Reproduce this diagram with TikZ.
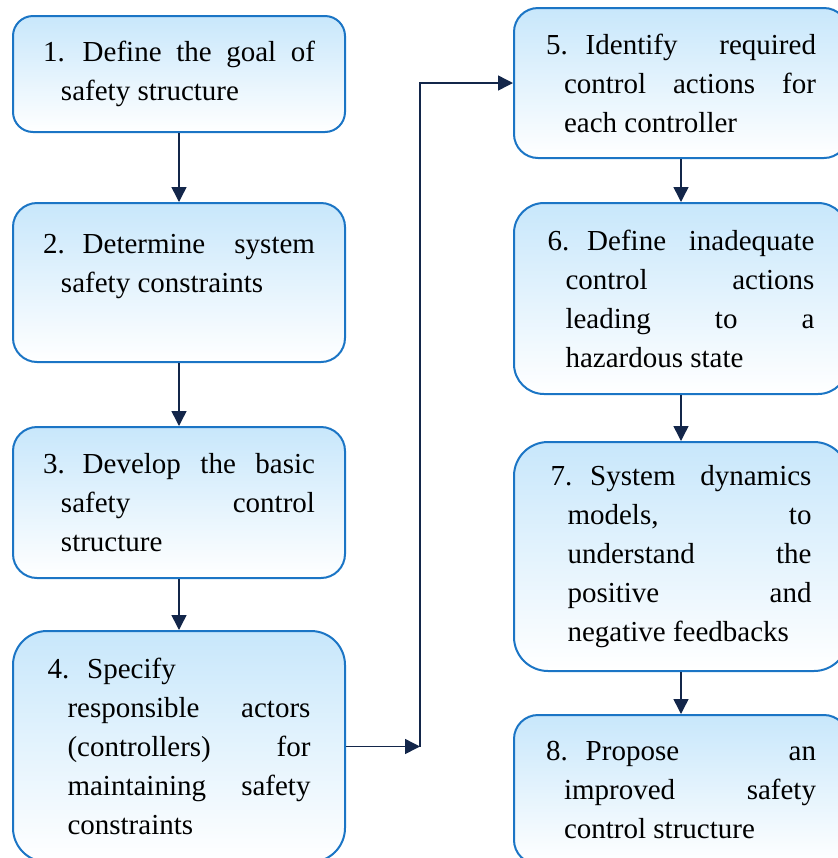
\documentclass[tikz,border=0pt]{standalone}
\usepackage{fontspec}
\setmainfont{Liberation Serif}
\usetikzlibrary{arrows.meta}

\definecolor{bordeazul}{HTML}{1B75C5}
\definecolor{rellenoazul}{HTML}{C8E7FB}
\definecolor{flecha}{HTML}{13264A}

% número del paso con sangría francesa a partir de la segunda línea
\newcommand{\numpaso}[2]{\hangindent=#1\hangafter=1\relax #2.\hspace{9pt}\ignorespaces}
\hyphenpenalty=10000
\tolerance=10000

\tikzset{
  paso/.style={draw=bordeazul, line width=1pt, rounded corners=12pt,
    top color=rellenoazul, bottom color=white, inner sep=0pt,
    align=justify, font=\fontsize{14.5pt}{19.5pt}\selectfont},
  flechapaso/.style={draw=flecha, line width=0.75pt,
    -{Triangle[length=7.5pt,width=7.5pt]}}
}

\begin{document}
\begin{tikzpicture}[x=0.5pt,y=-0.5pt]
  % Marco (coordenadas en px de la imagen)
  \useasboundingbox (0,0) rectangle (838,858);

  % Anchuras de las cajas
  \def\wizq{166pt}   % columna izquierda
  \def\wder{167pt}   % columna derecha

  % Columna izquierda: pasos 1 a 4
  \node[paso, rounded corners=10pt, minimum width=\wizq, minimum height=58pt, text width=136pt] (p1) at (179,74)
    {\numpaso{9pt}{1}Define the goal of\linebreak safety structure\par};
  \node[paso, minimum width=\wizq, minimum height=79.5pt, text width=136pt] (p2) at (179,282.5)
    {\numpaso{9pt}{2}Determine system\linebreak safety constraints\newline\mbox{}\par};
  \node[paso, minimum width=\wizq, minimum height=75.5pt, text width=136pt] (p3) at (179,502.5)
    {\numpaso{9pt}{3}Develop the basic\linebreak safety control\linebreak structure\par};
  \node[paso, rounded corners=17pt, minimum width=\wizq, minimum height=115.5pt, text width=131.5pt] (p4) at (179,746.5)
    {\numpaso{10pt}{4}Specify\newline responsible actors\linebreak (controllers) for\linebreak maintaining safety\linebreak constraints\par};

  % Columna derecha: pasos 5 a 8
  \node[paso, minimum width=\wder, minimum height=75pt, text width=135pt] (p5) at (681,83)
    {\numpaso{9pt}{5}Identify required\linebreak control actions for\linebreak each controller\par};
  \node[paso, rounded corners=15pt, minimum width=\wder, minimum height=95.5pt, text width=133.5pt] (p6) at (681,298.5)
    {\numpaso{9pt}{6}Define inadequate\linebreak control actions\linebreak leading to a\linebreak hazardous state\par};
  \node[paso, rounded corners=17pt, minimum width=\wder, minimum height=114.5pt, text width=130.5pt] (p7) at (681,556.5)
    {\numpaso{8.5pt}{7}System dynamics\linebreak models, to\linebreak understand the\linebreak positive and\linebreak negative feedbacks\par};
  \node[paso, minimum width=\wder, minimum height=74.5pt, text width=135pt] (p8) at (681,789.5)
    {\numpaso{9pt}{8}Propose an\linebreak improved safety\linebreak control structure\par};

  % Flechas entre pasos
  \draw[flechapaso] (p1) -- (p2);
  \draw[flechapaso] (p2) -- (p3);
  \draw[flechapaso] (p3) -- (p4);
  \coordinate (giro) at (420,746.5);
  \draw[flechapaso] (p4.east) -- (giro);
  \draw[flechapaso] (giro) |- (p5.west);
  \draw[flechapaso] (p5) -- (p6);
  \draw[flechapaso] (p6) -- (p7);
  \draw[flechapaso] (p7) -- (p8);
\end{tikzpicture}
\end{document}
